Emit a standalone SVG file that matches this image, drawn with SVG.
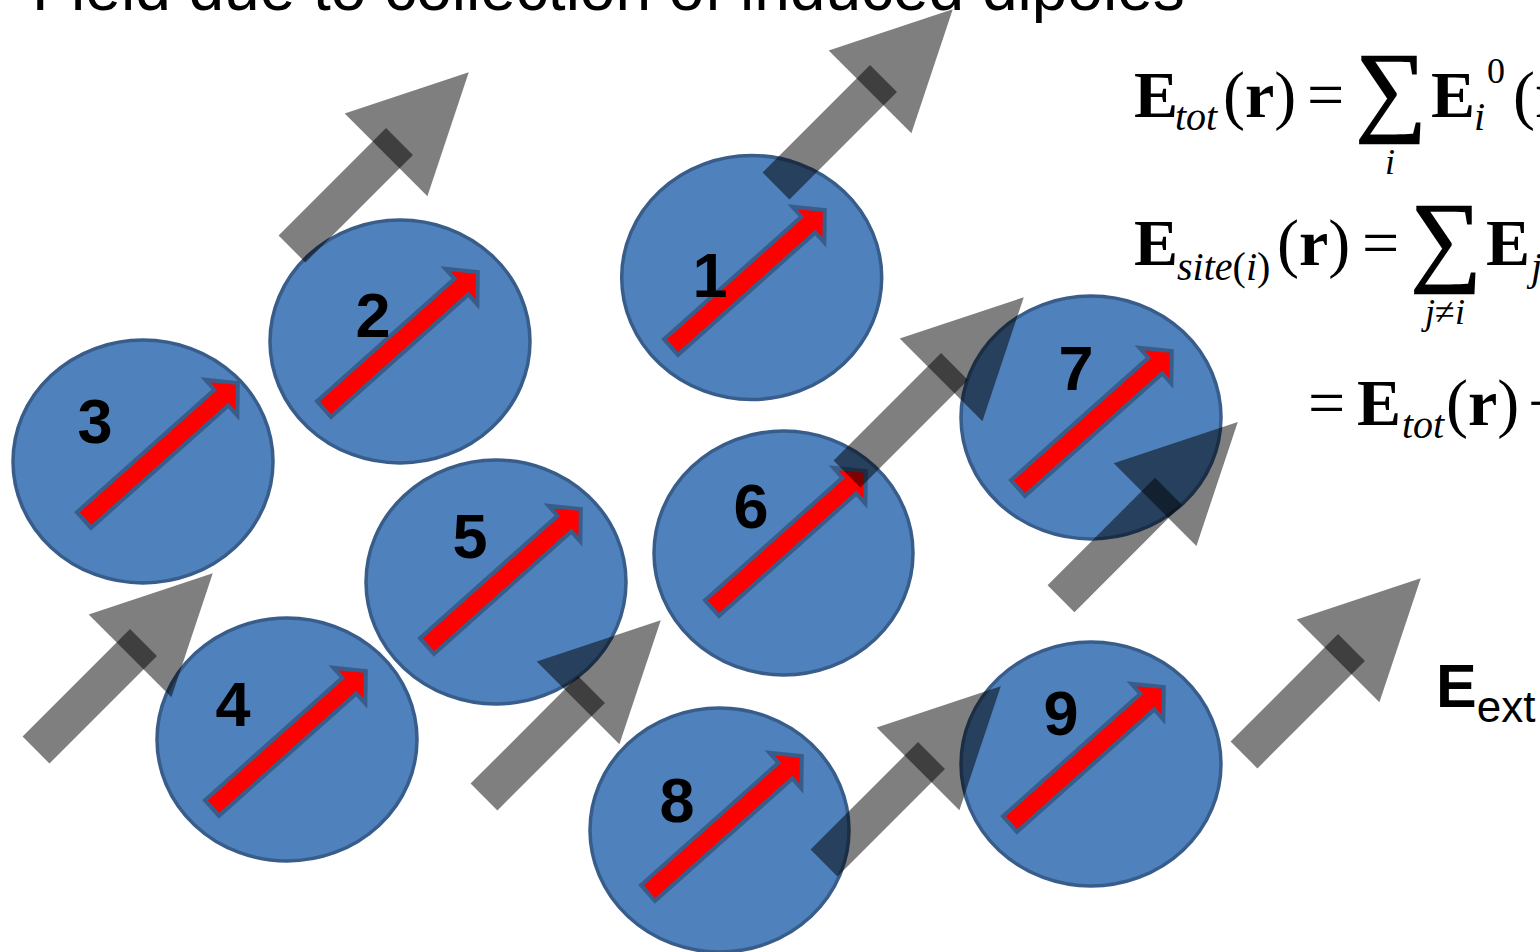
<svg xmlns="http://www.w3.org/2000/svg" xmlns:xlink="http://www.w3.org/1999/xlink" width="1540" height="952" viewBox="0 0 1540 952">
<style>
.node ellipse{fill:#4F81BD;stroke:#385D8A;stroke-width:3.5}
.dip{fill:#FF0000;stroke:#385D8A;stroke-width:4;stroke-linejoin:miter}
.num{font-family:"Liberation Sans",Arial,sans-serif;font-weight:bold;font-size:63px;fill:#000;text-anchor:middle}
.title{font-family:"Liberation Sans",Arial,sans-serif;font-size:64px;fill:#000}
.eq{font-family:"Liberation Serif","Times New Roman",serif;font-size:66px;fill:#000}
.sup{font-family:"Liberation Serif","Times New Roman",serif;font-size:36px;fill:#000}
.b{font-weight:bold}
.sub{font-family:"Liberation Serif","Times New Roman",serif;font-style:italic;font-size:40px;fill:#000}
.lim{font-family:"Liberation Serif","Times New Roman",serif;font-style:italic;font-size:36px;fill:#000;text-anchor:middle}
.sum{font-family:"Liberation Serif","Times New Roman",serif;font-size:100px;fill:#000;stroke:#000;stroke-width:1.5;text-anchor:middle}
.ext{font-family:"Liberation Sans",Arial,sans-serif;fill:#000}
</style>
<defs>
<polygon id="dipole" class="dip" points="0,-10.5 184,-10.5 184,-24 206,0 184,24 184,10.5 0,10.5"/>
<g id="farrow"><rect x="0" y="-19" width="152" height="38" fill="#000" fill-opacity="0.5"/><polygon points="133,-58.5 250,0 133,58.5" fill="#000" fill-opacity="0.5"/></g>
</defs>

<text class="title" x="32" y="10">Field due to collection of induced dipoles</text>

<g id="node1" class="node"><ellipse cx="751.7" cy="277.5" rx="130" ry="122"/><use xlink:href="#dipole" transform="translate(671,347) rotate(-41.7)"/><text class="num" x="710" y="297">1</text></g>
<g id="node2" class="node"><ellipse cx="400" cy="341.5" rx="130" ry="121.5"/><use xlink:href="#dipole" transform="translate(324,409) rotate(-41.7)"/><text class="num" x="373" y="337">2</text></g>
<g id="node3" class="node"><ellipse cx="143" cy="461.5" rx="130" ry="121.5"/><use xlink:href="#dipole" transform="translate(84,520) rotate(-41.7)"/><text class="num" x="95" y="443">3</text></g>
<g id="node4" class="node"><ellipse cx="287" cy="739.5" rx="130" ry="121.5"/><use xlink:href="#dipole" transform="translate(212,808) rotate(-41.7)"/><text class="num" x="233" y="726">4</text></g>
<g id="node5" class="node"><ellipse cx="496" cy="582" rx="130" ry="122"/><use xlink:href="#dipole" transform="translate(427,646) rotate(-41.7)"/><text class="num" x="470" y="558">5</text></g>
<g id="node6" class="node"><ellipse cx="783.5" cy="553" rx="129.5" ry="122"/><use xlink:href="#dipole" transform="translate(712,608) rotate(-41.7)"/><text class="num" x="751" y="528">6</text></g>
<g id="node7" class="node"><ellipse cx="1091" cy="417.5" rx="130" ry="121.5"/><use xlink:href="#dipole" transform="translate(1018,488) rotate(-41.7)"/><text class="num" x="1076" y="390">7</text></g>
<g id="node8" class="node"><ellipse cx="719.5" cy="830" rx="129.5" ry="122"/><use xlink:href="#dipole" transform="translate(648,893) rotate(-41.7)"/><text class="num" x="677" y="822">8</text></g>
<g id="node9" class="node"><ellipse cx="1091" cy="764" rx="130" ry="122"/><use xlink:href="#dipole" transform="translate(1010,824) rotate(-41.7)"/><text class="num" x="1061" y="735">9</text></g>

<g id="field-arrows">
<use xlink:href="#farrow" transform="translate(776,186) rotate(-45)"/>
<use xlink:href="#farrow" transform="translate(292,249) rotate(-45)"/>
<use xlink:href="#farrow" transform="translate(36,750) rotate(-45)"/>
<use xlink:href="#farrow" transform="translate(484,797) rotate(-45)"/>
<use xlink:href="#farrow" transform="translate(847,474) rotate(-45)"/>
<use xlink:href="#farrow" transform="translate(1061,598.7) rotate(-45)"/>
<use xlink:href="#farrow" transform="translate(824,863) rotate(-45)"/>
<use xlink:href="#farrow" transform="translate(1244,755) rotate(-45)"/>
</g>

<g id="equations">
<text class="eq b" x="1134" y="117">E</text>
<text class="sub" x="1175" y="130">tot</text>
<text class="eq" x="1223" y="117">(<tspan class="b">r</tspan>)</text>
<text class="eq" x="1307" y="117">=</text>
<text class="sum" x="1391" y="122">∑</text>
<text class="lim" x="1390" y="174">i</text>
<text class="eq b" x="1431" y="117">E</text>
<text class="sub" x="1474" y="130">i</text>
<text class="sup" x="1487" y="83">0</text>
<text class="eq" x="1513" y="117">(<tspan class="b">r</tspan>)</text>

<text class="eq b" x="1134" y="265">E</text>
<text class="sub" x="1177" y="280">site<tspan font-style="normal">(</tspan>i<tspan font-style="normal">)</tspan></text>
<text class="eq" x="1277" y="265">(<tspan class="b">r</tspan>)</text>
<text class="eq" x="1362" y="265">=</text>
<text class="sum" x="1446" y="272">∑</text>
<text class="lim" x="1445" y="324">j<tspan font-style="normal">≠</tspan>i</text>
<text class="eq b" x="1486" y="265">E</text>
<text class="sub" x="1531" y="280">j</text>

<text class="eq" x="1308" y="425">=</text>
<text class="eq b" x="1357" y="425">E</text>
<text class="sub" x="1402" y="438">tot</text>
<text class="eq" x="1446" y="425">(<tspan class="b">r</tspan>)</text>
<text class="eq" x="1528" y="425">−</text>
</g>

<text class="ext" x="1436" y="707" font-size="61" font-weight="bold">E<tspan font-weight="normal" font-size="44" dy="15">ext</tspan></text>
</svg>
